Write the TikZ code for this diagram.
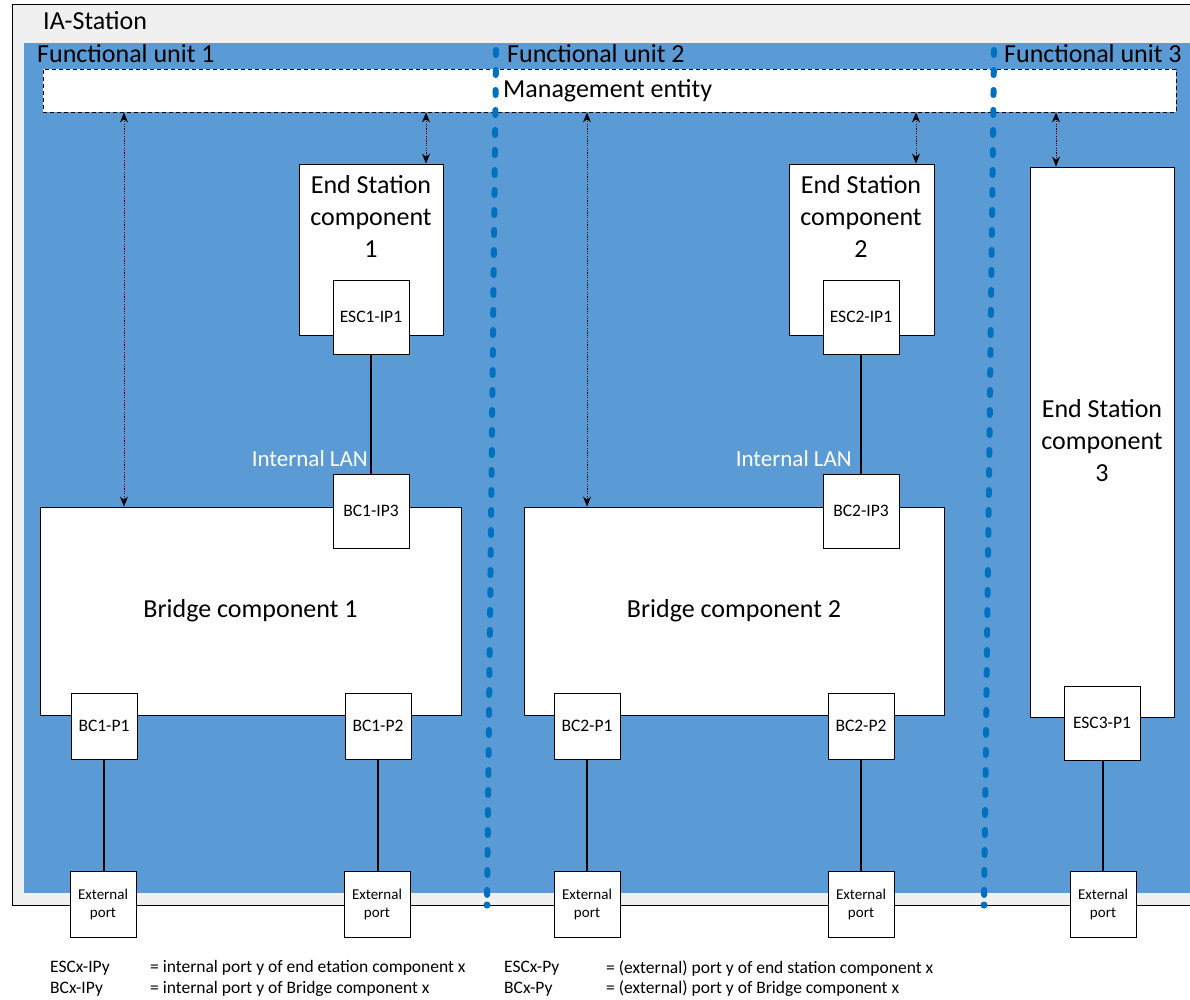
\documentclass[tikz,border=0pt]{standalone}
\usepackage{fontspec}
\setmainfont{Carlito}
\usetikzlibrary{arrows.meta}
\definecolor{iagray}{HTML}{F0F0F0}
\definecolor{fublue}{HTML}{5B9BD5}
\definecolor{divblue}{HTML}{0070C0}
\begin{document}
\begin{tikzpicture}[x=1pt,y=-1pt,
  box/.style={draw=black, fill=white, line width=0.9pt, inner sep=0pt},
  bigtext/.style={font=\fontsize{26}{32}\selectfont, inner sep=0pt},
  portbox/.style={box, minimum width=76pt, minimum height=74pt, font=\fontsize{17.5}{21}\selectfont},
  bport/.style={box, minimum width=66pt, minimum height=66pt, font=\fontsize{17.5}{21}\selectfont},
  extport/.style={box, minimum width=66pt, minimum height=66pt, align=center, font=\fontsize{15}{18}\selectfont},
  conn/.style={line width=1.1pt, draw=black},
  mgarrow/.style={line width=0.9pt, dash pattern=on 1.2pt off 1.2pt, {Stealth[length=10pt,width=8pt]}-{Stealth[length=10pt,width=8pt]}},
  divider/.style={draw=divblue, line width=6pt, line cap=round, dash pattern=on 5pt off 15pt},
  lantext/.style={font=\fontsize{23}{28}\selectfont, text=white, inner sep=0pt, anchor=east},
  legend/.style={font=\fontsize{17.5}{21}\selectfont, inner sep=0pt, anchor=west}
]
\clip (0,0) rectangle (1190,1000);
\fill[white] (0,0) rectangle (1190,1000);
% IA-Station frame
\node[draw=black, fill=iagray, line width=0.9pt, minimum width=1200pt, minimum height=901pt, anchor=north west, inner sep=0pt] (station) at (12,4) {};
\fill[fublue] (24,43) rectangle (1210,893);
\node[bigtext, anchor=west] (statlbl) at (43,21) {IA-Station};
\node[bigtext, anchor=west] (fu1) at (37,54) {Functional unit 1};
\node[bigtext, anchor=west] (fu2) at (507,54) {Functional unit 2};
\node[bigtext, anchor=west] (fu3) at (1004,54) {Functional unit 3};
% management entity
\node[box, dash pattern=on 4pt off 3pt, minimum width=1133pt, minimum height=43pt] (mgmt) at (609.5,90.5) {};
\node[bigtext, anchor=west] (mgmttxt) at (503,91) {Management entity};
% unit 1
\node[box, minimum width=144pt, minimum height=171pt] (es1) at (371,249.5) {};
\node[bigtext, align=center] (es1t) at (371,216) {End Station\\component\\1};
\node[portbox] (esc1ip1) at (371,317) {ESC1-IP1};
\node[box, bigtext, minimum width=421pt, minimum height=208pt] (br1) at (250.5,611) {Bridge component 1};
\node[portbox] (bc1ip3) at (371,511) {BC1-IP3};
\node[bport] (bc1p1) at (104,726) {BC1-P1};
\node[bport] (bc1p2) at (378,726) {BC1-P2};
\node[extport] (ext11) at (103,904) {External\\port};
\node[extport] (ext12) at (377,904) {External\\port};
\node[lantext] (lan1) at (368,459) {Internal LAN};
% unit 2
\node[box, minimum width=145pt, minimum height=171pt] (es2) at (861.5,249.5) {};
\node[bigtext, align=center] (es2t) at (861,216) {End Station\\component\\2};
\node[portbox] (esc2ip1) at (861,317) {ESC2-IP1};
\node[box, bigtext, minimum width=420pt, minimum height=208pt] (br2) at (734,611) {Bridge component 2};
\node[portbox] (bc2ip3) at (861,511) {BC2-IP3};
\node[bport] (bc2p1) at (587,726) {BC2-P1};
\node[bport] (bc2p2) at (861,726) {BC2-P2};
\node[extport] (ext21) at (587,904) {External\\port};
\node[extport] (ext22) at (861,904) {External\\port};
\node[lantext] (lan2) at (852,459) {Internal LAN};
% unit 3
\node[box, minimum width=144pt, minimum height=550pt] (es3) at (1102,442) {};
\node[bigtext, align=center] (es3t) at (1102,441) {End Station\\component\\3};
\node[portbox] (esc3p1) at (1102,723) {ESC3-P1};
\node[extport] (ext3) at (1103,904) {External\\port};
% connectors
\draw[conn] (esc1ip1.south) -- (bc1ip3.north);
\draw[conn] (esc2ip1.south) -- (bc2ip3.north);
\draw[conn] (bc1p1.south) -- (bc1p1.south |- ext11.north);
\draw[conn] (bc1p2.south) -- (bc1p2.south |- ext12.north);
\draw[conn] (bc2p1.south) -- (bc2p1.south |- ext21.north);
\draw[conn] (bc2p2.south) -- (bc2p2.south |- ext22.north);
\draw[conn] (esc3p1.south -| ext3.north) -- (ext3.north);
% management arrows
\coordinate (a1) at (124,0);
\coordinate (a2) at (426,0);
\coordinate (a3) at (587,0);
\coordinate (a4) at (916,0);
\coordinate (a5) at (1056,0);
\draw[mgarrow] (mgmt.south -| a1) -- (br1.north -| a1);
\draw[mgarrow] (mgmt.south -| a2) -- (es1.north -| a2);
\draw[mgarrow] (mgmt.south -| a3) -- (br2.north -| a3);
\draw[mgarrow] (mgmt.south -| a4) -- (es2.north -| a4);
\draw[mgarrow] (mgmt.south -| a5) -- (es3.north -| a5);
% dividers
\coordinate (d1t) at (496,50);
\coordinate (d1b) at (487,905);
\coordinate (d2t) at (994,50);
\coordinate (d2b) at (984,905);
\draw[divider] (d1t) -- (d1b);
\draw[divider] (d2t) -- (d2b);
\fill[divblue] (d1b) circle (3.5pt);
\fill[divblue] (d2b) circle (3.5pt);
% legend
\node[legend] (l1a) at (50,968) {ESCx-IPy};
\node[legend] (l1b) at (150,968) {= internal port y of end etation component x};
\node[legend] (l2a) at (50,989) {BCx-IPy};
\node[legend] (l2b) at (150,989) {= internal port y of Bridge component x};
\node[legend] (l3a) at (504,968) {ESCx-Py};
\node[legend] (l3b) at (606,968) {= (external) port y of end station component x};
\node[legend] (l4a) at (504,989) {BCx-Py};
\node[legend] (l4b) at (606,989) {= (external) port y of Bridge component x};
\end{tikzpicture}
\end{document}
